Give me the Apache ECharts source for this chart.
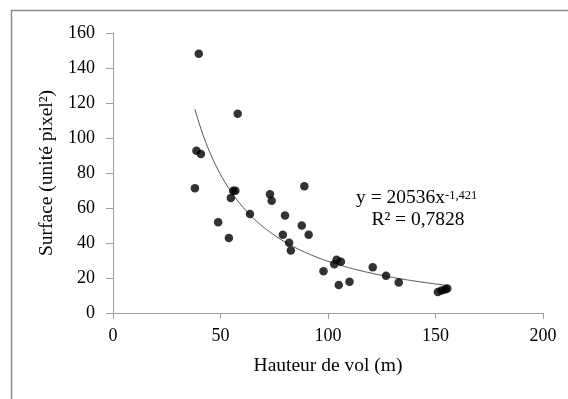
<!DOCTYPE html>
<html>
<head>
<meta charset="utf-8">
<script src="https://cdn.jsdelivr.net/npm/echarts@6/dist/echarts.min.js"></script>
<style>
  html, body { margin: 0; padding: 0; background: #fff; }
  #chart { width: 568px; height: 399px; }
</style>
</head>
<body>
<div id="chart"></div>
<script>
// Flight height (m) and detected surface (pixel²) of each observation
const hauteur = [39.9, 58.0, 38.8, 40.9, 38.1, 48.9, 53.9, 54.8, 55.9, 56.9,
                 63.7, 73.0, 73.8, 80.0, 79.0, 81.9, 82.7, 89.0, 87.8, 91.0,
                 97.9, 102.9, 104.0, 106.0, 105.0, 110.0, 120.8, 127.0, 132.9,
                 151.1, 152.8, 154.5, 155.5];
const surface = [148.2, 113.8, 92.7, 90.8, 71.3, 51.9, 42.9, 65.7, 69.9, 69.9,
                 56.6, 67.8, 64.2, 55.7, 44.7, 40.1, 35.7, 72.4, 50.0, 44.7,
                 23.8, 27.9, 30.4, 29.3, 16.0, 17.9, 26.2, 21.3, 17.5,
                 12.0, 12.9, 13.5, 14.0];

// Power trend line y = a·x^b, coefficients as given in the equation label
const coefA = 20536;
const coefB = -1.421;
const r2 = 0.7828;

const xTicks = [0, 50, 100, 150, 200];
const yTicks = [0, 20, 40, 60, 80, 100, 120, 140, 160];

const points = hauteur.map((h, i) => [h, surface[i]]);
const xMinData = Math.min(...hauteur);
const xMaxData = Math.max(...hauteur);
const trend = [];
for (let k = 0; k <= 120; k++) {
  const x = xMinData + (xMaxData - xMinData) * k / 120;
  trend.push([x, coefA * Math.pow(x, coefB)]);
}

const fmt = v => String(v).replace('.', ',');
const serif = '"Liberation Serif", "Times New Roman", serif';
const axisGray = '#a0a0a0';

const chart = echarts.init(document.getElementById('chart'), null, { renderer: 'canvas' });
chart.setOption({
  animation: false,
  backgroundColor: '#fff',
  grid: { left: 113, right: 25, top: 33, bottom: 86, containLabel: false },
  xAxis: {
    type: 'value',
    min: xTicks[0], max: xTicks[xTicks.length - 1], interval: 50,
    name: 'Hauteur de vol (m)',
    nameLocation: 'middle',
    nameGap: 43,
    nameTextStyle: { fontFamily: serif, fontSize: 19.5, color: '#000' },
    axisLine: { show: true, lineStyle: { color: axisGray, width: 1 } },
    axisTick: { show: true, length: 6, lineStyle: { color: axisGray } },
    axisLabel: { fontFamily: serif, fontSize: 18, color: '#000', margin: 14 },
    splitLine: { show: false }
  },
  yAxis: {
    type: 'value',
    min: yTicks[0], max: yTicks[yTicks.length - 1], interval: 20,
    name: 'Surface (unité pixel²)',
    nameLocation: 'middle',
    nameRotate: 90,
    nameGap: 52,
    nameTextStyle: { fontFamily: serif, fontSize: 19.5, color: '#000' },
    axisLine: { show: true, lineStyle: { color: axisGray, width: 1 } },
    axisTick: { show: true, length: 7, lineStyle: { color: axisGray } },
    axisLabel: { fontFamily: serif, fontSize: 18, color: '#000', margin: 18 },
    splitLine: { show: false }
  },
  series: [
    {
      type: 'line',
      data: trend,
      showSymbol: false,
      smooth: false,
      lineStyle: { color: '#555', width: 1 },
      z: 2
    },
    {
      type: 'scatter',
      data: points,
      symbol: 'circle',
      symbolSize: 8.5,
      itemStyle: { color: '#000' },
      z: 3
    }
  ],
  graphic: [
    {
      type: 'rect',
      shape: { x: 11.5, y: 10.5, width: 600, height: 500 },
      style: { fill: 'none', stroke: '#8c8c8c', lineWidth: 1.5 },
      silent: true
    },
    {
      type: 'text',
      x: 356, y: 197.4,
      style: {
        text: 'y = ' + coefA + 'x',
        font: '19.5px ' + serif,
        fill: '#000',
        textAlign: 'left',
        textVerticalAlign: 'middle'
      }
    },
    {
      type: 'text',
      x: 445, y: 195.5,
      style: {
        text: fmt(coefB),
        font: '12.5px ' + serif,
        fill: '#000',
        textAlign: 'left',
        textVerticalAlign: 'middle'
      }
    },
    {
      type: 'text',
      x: 418, y: 219.4,
      style: {
        text: 'R² = ' + fmt(r2),
        font: '19.5px ' + serif,
        fill: '#000',
        textAlign: 'center',
        textVerticalAlign: 'middle'
      }
    }
  ]
});
</script>
</body>
</html>
